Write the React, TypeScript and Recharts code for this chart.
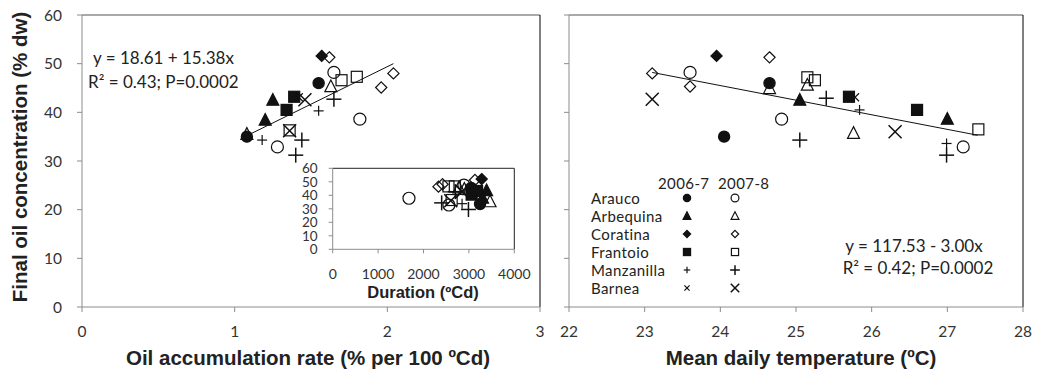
import React from "react";
import { Legend, ReferenceLine, Scatter, ScatterChart, XAxis, YAxis } from "recharts";

const varieties = ["Arauco", "Arbequina", "Coratina", "Frantoio", "Manzanilla", "Barnea"];
const seasons = ["2006-7", "2007-8"];

const concTicks = [0, 10, 20, 30, 40, 50, 60];
const rateTicks = [0, 1, 2, 3];
const tempTicks = [22, 23, 24, 25, 26, 27, 28];
const durationTicks = [0, 1000, 2000, 3000, 4000];

type Pt = [string, string, number, number];

// [variety, season, oil accumulation rate, final oil concentration]
const ratePoints: Pt[] = [
  ["Arauco", "2006-7", 1.08, 35.0],
  ["Arauco", "2006-7", 1.55, 46.0],
  ["Arauco", "2007-8", 1.65, 48.2],
  ["Arauco", "2007-8", 1.28, 32.9],
  ["Arauco", "2007-8", 1.82, 38.6],
  ["Arbequina", "2006-7", 1.25, 42.5],
  ["Arbequina", "2006-7", 1.2, 38.4],
  ["Arbequina", "2007-8", 1.08, 35.5],
  ["Arbequina", "2007-8", 1.63, 45.3],
  ["Coratina", "2006-7", 1.57, 51.6],
  ["Coratina", "2007-8", 1.62, 51.3],
  ["Coratina", "2007-8", 2.04, 48.0],
  ["Coratina", "2007-8", 1.96, 45.1],
  ["Frantoio", "2006-7", 1.39, 43.2],
  ["Frantoio", "2006-7", 1.34, 40.5],
  ["Frantoio", "2007-8", 1.7, 46.6],
  ["Frantoio", "2007-8", 1.8, 47.3],
  ["Frantoio", "2007-8", 1.36, 36.3],
  ["Manzanilla", "2006-7", 1.18, 34.3],
  ["Manzanilla", "2006-7", 1.55, 40.3],
  ["Manzanilla", "2007-8", 1.65, 42.7],
  ["Manzanilla", "2007-8", 1.44, 34.3],
  ["Manzanilla", "2007-8", 1.4, 31.2],
  ["Barnea", "2006-7", 1.42, 43.1],
  ["Barnea", "2007-8", 1.46, 42.6],
  ["Barnea", "2007-8", 1.36, 36.2],
];

// [variety, season, mean daily temperature, final oil concentration]
const tempPoints: Pt[] = [
  ["Arauco", "2006-7", 24.65, 46.0],
  ["Arauco", "2006-7", 24.05, 35.0],
  ["Arauco", "2007-8", 23.6, 48.2],
  ["Arauco", "2007-8", 24.81, 38.6],
  ["Arauco", "2007-8", 27.21, 32.9],
  ["Arbequina", "2006-7", 25.05, 42.5],
  ["Arbequina", "2006-7", 27.0, 38.6],
  ["Arbequina", "2007-8", 24.65, 44.9],
  ["Arbequina", "2007-8", 25.15, 45.6],
  ["Arbequina", "2007-8", 25.76, 35.7],
  ["Coratina", "2006-7", 23.95, 51.6],
  ["Coratina", "2007-8", 24.65, 51.3],
  ["Coratina", "2007-8", 23.1, 48.0],
  ["Coratina", "2007-8", 23.6, 45.3],
  ["Frantoio", "2006-7", 25.7, 43.2],
  ["Frantoio", "2006-7", 26.6, 40.5],
  ["Frantoio", "2007-8", 25.15, 47.2],
  ["Frantoio", "2007-8", 25.25, 46.6],
  ["Frantoio", "2007-8", 27.41, 36.5],
  ["Manzanilla", "2006-7", 25.84, 40.5],
  ["Manzanilla", "2006-7", 26.99, 33.6],
  ["Manzanilla", "2007-8", 25.4, 42.9],
  ["Manzanilla", "2007-8", 25.05, 34.3],
  ["Manzanilla", "2007-8", 26.99, 31.2],
  ["Barnea", "2006-7", 25.78, 43.1],
  ["Barnea", "2007-8", 23.1, 42.7],
  ["Barnea", "2007-8", 26.31, 36.0],
];

// [variety, season, duration (ºCd), final oil concentration]
const durationPoints: Pt[] = [
  ["Arauco", "2006-7", 3245, 33.5],
  ["Arauco", "2006-7", 3050, 45.5],
  ["Arauco", "2007-8", 1680, 37.8],
  ["Arauco", "2007-8", 2890, 47.6],
  ["Arauco", "2007-8", 2560, 32.8],
  ["Arbequina", "2006-7", 3390, 43.5],
  ["Arbequina", "2006-7", 3300, 38.0],
  ["Arbequina", "2007-8", 3465, 35.3],
  ["Arbequina", "2007-8", 2780, 45.5],
  ["Arbequina", "2007-8", 2900, 44.5],
  ["Coratina", "2006-7", 3282, 52.0],
  ["Coratina", "2007-8", 3134, 51.3],
  ["Coratina", "2007-8", 2330, 46.4],
  ["Coratina", "2007-8", 2420, 48.2],
  ["Frantoio", "2006-7", 3060, 40.5],
  ["Frantoio", "2006-7", 3180, 43.2],
  ["Frantoio", "2007-8", 2550, 46.6],
  ["Frantoio", "2007-8", 2690, 46.6],
  ["Frantoio", "2007-8", 2620, 36.5],
  ["Manzanilla", "2006-7", 2950, 40.5],
  ["Manzanilla", "2006-7", 2850, 33.8],
  ["Manzanilla", "2007-8", 2400, 34.4],
  ["Manzanilla", "2007-8", 2990, 29.5],
  ["Manzanilla", "2007-8", 2700, 42.7],
  ["Barnea", "2006-7", 3000, 43.1],
  ["Barnea", "2007-8", 2600, 36.0],
  ["Barnea", "2007-8", 2850, 42.7],
];

// fitted lines, end points
const rateFit = [
  { x: 1.08, y: 35.2 },
  { x: 2.04, y: 50.0 },
];
const tempFit = [
  { x: 23.1, y: 48.2 },
  { x: 27.4, y: 35.3 },
];

const shapeOf: Record<string, string> = {
  Arauco: "circle",
  Arbequina: "triangle",
  Coratina: "diamond",
  Frantoio: "square",
  Manzanilla: "plus",
  Barnea: "cross",
};

const AXIS = "#8c8c8c";
const INK = "#111";
const tickFont = { fill: "#333", fontSize: 15.5, fontFamily: "Lato" };
const titleStyle: React.CSSProperties = {
  position: "absolute",
  fontFamily: "'Liberation Sans', Arial, sans-serif",
  fontWeight: "bold",
  fontSize: 20.5,
  color: "#222",
  whiteSpace: "nowrap",
};
const noteStyle: React.CSSProperties = {
  position: "absolute",
  fontFamily: "Lato",
  fontSize: 17,
  lineHeight: "22px",
  color: "#222",
  whiteSpace: "nowrap",
};

const Marker = ({ cx, cy, kind, filled, s = 1 }: any) => {
  if (cx == null || cy == null) return <g />;
  const fill = filled ? INK : "none";
  const sw = 1.2;
  if (kind === "circle") {
    return <circle cx={cx} cy={cy} r={(filled ? 5.6 : 6) * s} fill={fill} stroke={INK} strokeWidth={sw} />;
  }
  if (kind === "triangle") {
    const h = 6 * s;
    return (
      <polygon
        points={`${cx},${cy - h * 1.1} ${cx - h},${cy + h * 0.85} ${cx + h},${cy + h * 0.85}`}
        fill={fill}
        stroke={INK}
        strokeWidth={sw}
      />
    );
  }
  if (kind === "diamond") {
    const h = 5.6 * s;
    return (
      <polygon
        points={`${cx},${cy - h} ${cx + h},${cy} ${cx},${cy + h} ${cx - h},${cy}`}
        fill={fill}
        stroke={INK}
        strokeWidth={sw}
      />
    );
  }
  if (kind === "square") {
    const h = 5.5 * s;
    return <rect x={cx - h} y={cy - h} width={2 * h} height={2 * h} fill={fill} stroke={INK} strokeWidth={sw} />;
  }
  if (kind === "plus") {
    const h = (filled ? 5 : 7.5) * s;
    return (
      <g stroke={INK} strokeWidth={filled ? 1.2 : 1.5}>
        <line x1={cx - h} y1={cy} x2={cx + h} y2={cy} />
        <line x1={cx} y1={cy - h} x2={cx} y2={cy + h} />
      </g>
    );
  }
  const h = (filled ? 4 : 6.5) * s;
  return (
    <g stroke={INK} strokeWidth={filled ? 1.2 : 1.5}>
      <line x1={cx - h} y1={cy - h} x2={cx + h} y2={cy + h} />
      <line x1={cx - h} y1={cy + h} x2={cx + h} y2={cy - h} />
    </g>
  );
};

const renderSeries = (points: Pt[], scale = 1) =>
  varieties.flatMap((v) =>
    seasons.map((s, si) => {
      const data = points.filter((p) => p[0] === v && p[1] === s).map((p) => ({ x: p[2], y: p[3] }));
      return (
        <Scatter
          key={`${v}-${s}`}
          name={`${v} ${s}`}
          data={data}
          isAnimationActive={false}
          shape={(p: any) => <Marker cx={p.cx} cy={p.cy} kind={shapeOf[v]} filled={si === 0} s={scale} />}
        />
      );
    })
  );

const legendRowTop = (r: number) => 15 + r * 17.9;

const OliveLegend = () => (
  <div
    style={{
      position: "relative",
      width: 170,
      height: 125,
      fontFamily: "Lato",
      fontSize: 15,
      color: "#222",
      letterSpacing: 0.4,
      whiteSpace: "nowrap",
    }}
  >
    {seasons.map((s, i) => (
      <div key={s} style={{ position: "absolute", left: i === 0 ? 67 : 127, top: 0, lineHeight: "18px" }}>
        {s}
      </div>
    ))}
    {varieties.map((v, r) => (
      <React.Fragment key={v}>
        <div style={{ position: "absolute", left: 0, top: legendRowTop(r), lineHeight: "18px" }}>{v}</div>
        {seasons.map((s, i) => (
          <svg
            key={s}
            width={16}
            height={16}
            style={{ position: "absolute", left: (i === 0 ? 96 : 144) - 8, top: legendRowTop(r) + 1 }}
          >
            <Marker cx={8} cy={8} kind={shapeOf[v]} filled={i === 0} s={0.65} />
          </svg>
        ))}
      </React.Fragment>
    ))}
  </div>
);

export default function App() {
  return (
    <div style={{ position: "absolute", left: 0, top: 0, width: 1038, height: 376, background: "#fff", overflow: "hidden" }}>
      {/* left panel: accumulation rate */}
      <div style={{ position: "absolute", left: 0, top: 0 }}>
        <ScatterChart width={560} height={376} margin={{ top: 15, right: 20, bottom: 39, left: 42 }}>
          <XAxis
            type="number"
            dataKey="x"
            domain={[0, 3]}
            ticks={rateTicks}
            interval={0}
            height={30}
            axisLine={{ stroke: AXIS }}
            tickLine={{ stroke: AXIS }}
            tickSize={5}
            tickMargin={14}
            tick={tickFont}
          />
          <YAxis
            type="number"
            dataKey="y"
            domain={[0, 60]}
            ticks={concTicks}
            interval={0}
            width={40}
            axisLine={{ stroke: AXIS }}
            tickLine={{ stroke: AXIS }}
            tickSize={5}
            tickMargin={15}
            tick={tickFont}
          />
          <ReferenceLine y={60} stroke="#555" />
          <ReferenceLine x={3} stroke="#000" />
          <ReferenceLine segment={rateFit} stroke={INK} strokeWidth={1} ifOverflow="visible" />
          {renderSeries(ratePoints)}
        </ScatterChart>
      </div>

      {/* inset: duration */}
      <div style={{ position: "absolute", left: 290, top: 160 }}>
        <ScatterChart width={250} height={135} margin={{ top: 8.3, right: 25.7, bottom: 20, left: 12.7 }}>
          <XAxis
            type="number"
            dataKey="x"
            domain={[0, 4000]}
            ticks={durationTicks}
            interval={0}
            height={25.7}
            axisLine={{ stroke: AXIS }}
            tickLine={{ stroke: AXIS }}
            tickSize={4}
            tickMargin={16}
            tick={{ ...tickFont, fontSize: 14 }}
          />
          <YAxis
            type="number"
            dataKey="y"
            domain={[0, 60]}
            ticks={concTicks}
            interval={0}
            width={30}
            axisLine={{ stroke: AXIS }}
            tickLine={{ stroke: AXIS }}
            tickSize={4}
            tickMargin={11}
            tick={{ ...tickFont, fontSize: 13.5 }}
          />
          <ReferenceLine y={60} stroke="#222" />
          <ReferenceLine x={4000} stroke="#222" />
          {renderSeries(durationPoints)}
        </ScatterChart>
      </div>

      {/* right panel: temperature */}
      <div style={{ position: "absolute", left: 520, top: 0 }}>
        <ScatterChart width={518} height={376} margin={{ top: 15, right: 15, bottom: 39, left: 9 }}>
          <XAxis
            type="number"
            dataKey="x"
            domain={[22, 28]}
            ticks={tempTicks}
            interval={0}
            height={30}
            axisLine={{ stroke: AXIS }}
            tickLine={{ stroke: AXIS }}
            tickSize={5}
            tickMargin={14}
            tick={tickFont}
          />
          <YAxis
            type="number"
            dataKey="y"
            domain={[0, 60]}
            ticks={concTicks}
            interval={0}
            width={40}
            axisLine={{ stroke: AXIS }}
            tickLine={{ stroke: AXIS }}
            tickSize={5}
            tickFormatter={() => ""}
          />
          <ReferenceLine y={60} stroke="#555" />
          <ReferenceLine x={28} stroke="#000" />
          <ReferenceLine segment={tempFit} stroke={INK} strokeWidth={1} ifOverflow="visible" />
          {renderSeries(tempPoints)}
          <Legend
            layout="vertical"
            align="center"
            verticalAlign="middle"
            content={() => <OliveLegend />}
            wrapperStyle={{ left: 71, top: 174, width: 170 }}
          />
        </ScatterChart>
      </div>

      {/* regression annotations */}
      <div style={{ ...noteStyle, left: 93, top: 47 }}>y = 18.61 + 15.38x</div>
      <div style={{ ...noteStyle, left: 88, top: 71 }}>R² = 0.43; P=0.0002</div>
      <div style={{ ...noteStyle, left: 814, top: 235, width: 200, textAlign: "center" }}>y = 117.53 - 3.00x</div>
      <div style={{ ...noteStyle, left: 818, top: 257, width: 200, textAlign: "center" }}>R² = 0.42; P=0.0002</div>

      {/* axis titles */}
      <div style={{ ...titleStyle, left: 20, top: 157, transform: "translate(-50%, -50%) rotate(-90deg)" }}>
        Final oil concentration (% dw)
      </div>
      <div style={{ ...titleStyle, left: 308, top: 358, transform: "translate(-50%, -50%)" }}>
        Oil accumulation rate (% per 100 ºCd)
      </div>
      <div style={{ ...titleStyle, left: 801, top: 358, transform: "translate(-50%, -50%)" }}>
        Mean daily temperature (ºC)
      </div>
      <div style={{ ...titleStyle, fontSize: 16.5, left: 423, top: 292, transform: "translate(-50%, -50%)" }}>
        Duration (ºCd)
      </div>
    </div>
  );
}
